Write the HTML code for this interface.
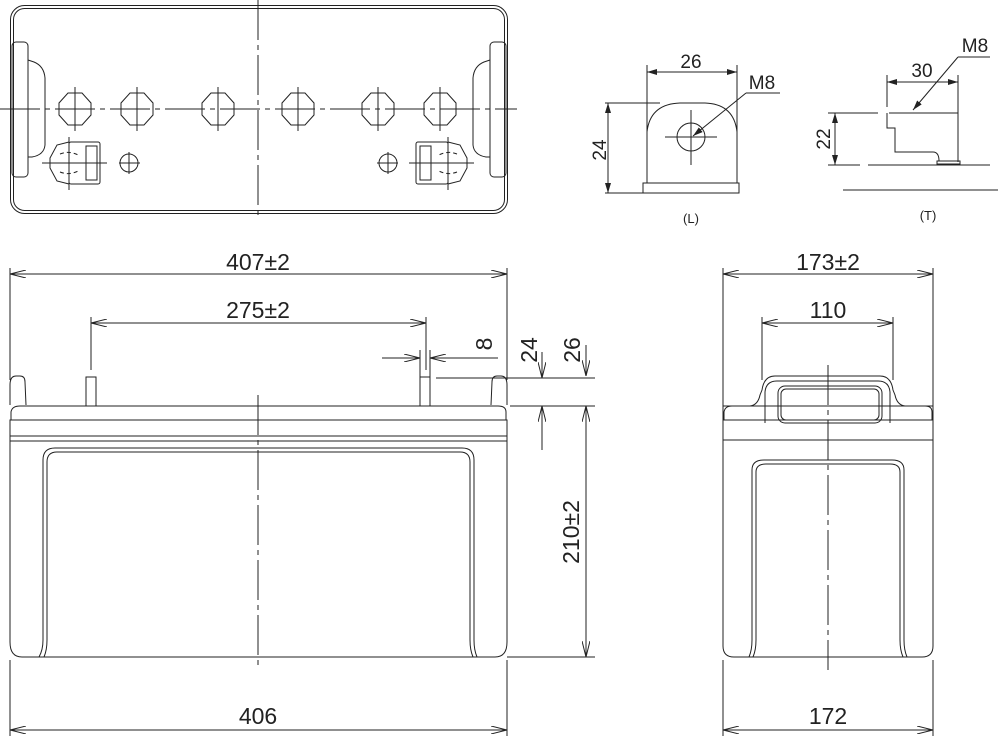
<!DOCTYPE html>
<html><head><meta charset="utf-8"><style>
html,body{margin:0;padding:0;background:#fff;}
svg{display:block;}
text{font-family:"Liberation Sans",sans-serif;fill:#222;}
.d{font-size:23px;}
.s{font-size:19px;}
</style></head><body>
<svg width="998" height="742" viewBox="0 0 998 742" xmlns="http://www.w3.org/2000/svg">
<defs>
<marker id="a" viewBox="0 0 16 8" refX="16" refY="4" markerWidth="16" markerHeight="8" orient="auto-start-reverse" markerUnits="userSpaceOnUse"><path d="M0,0 L16,4 L0,8" fill="none" stroke="#222" stroke-width="1"/></marker>
<marker id="b" viewBox="0 0 10 6" refX="10" refY="3" markerWidth="10" markerHeight="6" orient="auto-start-reverse" markerUnits="userSpaceOnUse"><path d="M0,0 L10,3 L0,6 Z" fill="#222"/></marker>
<polygon id="oct" points="-7,-16 7,-16 16,-6 16,6 7,16 -7,16 -16,6 -16,-6" fill="none" stroke="#222" stroke-width="1"/>
</defs>
<g fill="none" stroke="#222" stroke-width="1">
<rect x="10.5" y="5.5" width="497" height="208" rx="14"/>
<rect x="13.5" y="8.5" width="491" height="202" rx="11"/>
<line x1="258" y1="0" x2="258" y2="220" stroke-dasharray="40,5,5,5"/>
<line x1="0" y1="109" x2="517" y2="109" stroke-dasharray="40,5,5,5"/>
<use href="#oct" x="75" y="109"/><use href="#oct" x="137" y="109"/><use href="#oct" x="218" y="109"/>
<use href="#oct" x="298" y="109"/><use href="#oct" x="378" y="109"/><use href="#oct" x="440" y="109"/>
<line x1="75" y1="87" x2="75" y2="131"/><line x1="137" y1="87" x2="137" y2="131"/><line x1="218" y1="87" x2="218" y2="131"/><line x1="298" y1="87" x2="298" y2="131"/><line x1="378" y1="87" x2="378" y2="131"/><line x1="440" y1="87" x2="440" y2="131"/>
<rect x="12" y="42" width="16" height="135" rx="4"/>
<path d="M28,60 L34,62 Q44,66 45,78 L45,145 Q44,155 32,157 L28,157"/>
<rect x="490" y="42" width="16" height="135" rx="4"/>
<path d="M490,60 L484,62 Q474,66 473,78 L473,145 Q474,155 486,157 L490,157"/>
<path d="M69,142 L57,145 L50,158 L50,168 L57,181 L69,184"/>
<rect x="69" y="142" width="31" height="42" rx="2"/>
<rect x="86" y="146" width="11" height="34"/>
<path d="M60,154 Q70,150 80,156 M60,172 Q70,176 80,170" stroke-dasharray="4,3"/>
<line x1="42" y1="163" x2="107" y2="163"/><line x1="69" y1="137" x2="69" y2="190"/>
<circle cx="129" cy="163" r="9"/><line x1="119" y1="163" x2="140" y2="163"/><line x1="129" y1="152" x2="129" y2="174"/>
<path d="M448,142 L460,145 L467,158 L467,168 L460,181 L448,184"/>
<rect x="416" y="142" width="32" height="42" rx="2"/>
<rect x="420" y="146" width="11" height="34"/>
<path d="M457,154 Q447,150 437,156 M457,172 Q447,176 437,170" stroke-dasharray="4,3"/>
<line x1="409" y1="163" x2="474" y2="163"/><line x1="448" y1="137" x2="448" y2="190"/>
<circle cx="388" cy="163" r="9"/><line x1="377" y1="163" x2="398" y2="163"/><line x1="388" y1="152" x2="388" y2="174"/>

<line x1="10" y1="268" x2="10" y2="380"/><line x1="507" y1="268" x2="507" y2="380"/>
<line x1="10" y1="274" x2="507" y2="274" marker-start="url(#a)" marker-end="url(#a)"/>
<line x1="91" y1="317" x2="91" y2="370"/><line x1="426" y1="317" x2="426" y2="370"/>
<line x1="91" y1="323" x2="426" y2="323" marker-start="url(#a)" marker-end="url(#a)"/>
<path d="M10,405 L10,385 Q10,376 16,376 L20,376 Q25,376 25,382 L26,405"/>
<path d="M507,405 L507,385 Q507,376 501,376 L497,376 Q492,376 492,382 L491,405"/>
<rect x="86" y="377" width="10" height="29"/><rect x="420" y="377" width="10" height="29"/>
<path d="M11,420 L11,412 Q12,406 20,406 L498,406 Q506,406 506,412 L506,420"/>
<rect x="10" y="420" width="497" height="16"/>
<path d="M10,436 L10,441 M507,436 L507,441"/>
<path d="M10,441 L507,441 L507,642 Q507,657 495,657 L22,657 Q10,657 10,642 Z"/>
<path d="M44,657 Q47,650 47,640 L47,462 Q47,452 57,452 L460,452 Q470,452 470,462 L470,640 Q470,650 473,657"/>
<path d="M39,657 Q43,650 43,640 L43,460 Q43,448 55,448 L462,448 Q474,448 474,460 L474,640 Q474,650 477,657"/>
<line x1="258" y1="395" x2="258" y2="670" stroke-dasharray="40,5,5,5"/>
<line x1="10" y1="660" x2="10" y2="736"/><line x1="507" y1="660" x2="507" y2="736"/>
<line x1="10" y1="730" x2="507" y2="730" marker-start="url(#a)" marker-end="url(#a)"/>
<line x1="420" y1="350" x2="420" y2="377"/><line x1="430" y1="350" x2="430" y2="377"/>
<line x1="382" y1="358" x2="420" y2="358" marker-end="url(#a)"/>
<line x1="498" y1="358" x2="430" y2="358" marker-end="url(#a)"/>
<line x1="436" y1="378" x2="595" y2="378"/>
<line x1="510" y1="406" x2="595" y2="406"/>
<line x1="542" y1="352" x2="542" y2="378" marker-end="url(#a)"/>
<line x1="542" y1="450" x2="542" y2="406" marker-end="url(#a)"/>
<line x1="586" y1="345" x2="586" y2="376" marker-end="url(#a)"/>
<line x1="586" y1="406" x2="586" y2="657" marker-start="url(#a)" marker-end="url(#a)"/>
<line x1="507" y1="657" x2="595" y2="657"/>

<line x1="723" y1="268" x2="723" y2="420"/><line x1="933" y1="268" x2="933" y2="420"/>
<line x1="723" y1="274" x2="933" y2="274" marker-start="url(#a)" marker-end="url(#a)"/>
<line x1="762" y1="317" x2="762" y2="380"/><line x1="893" y1="317" x2="893" y2="380"/>
<line x1="762" y1="323" x2="893" y2="323" marker-start="url(#a)" marker-end="url(#a)"/>
<path d="M724,420 L724,412 Q725,406 732,406 L750,406 Q758,405 760,395 L762,390 Q764,376 775,376 L880,376 Q891,376 893,390 L895,395 Q897,405 905,406 L925,406 Q932,406 932,412 L932,420"/>
<path d="M765,423 L765,392 Q766,381 777,381 L878,381 Q889,381 890,392 L890,423"/>
<rect x="778" y="386" width="104" height="37" rx="7"/>
<rect x="781" y="389" width="98" height="31" rx="5"/>
<line x1="723" y1="406" x2="933" y2="406"/>
<rect x="723" y="420" width="210" height="20"/>
<path d="M723,440 L933,440 L933,646 Q933,657 922,657 L734,657 Q723,657 723,646 Z"/>
<path d="M753,657 Q756,650 756,640 L756,472 Q756,464 766,464 L890,464 Q900,464 900,472 L900,640 Q900,650 903,657"/>
<path d="M749,657 Q752,650 752,640 L752,470 Q752,460 764,460 L892,460 Q904,460 904,470 L904,640 Q904,650 907,657"/>
<line x1="828" y1="365" x2="828" y2="670" stroke-dasharray="40,5,5,5"/>
<line x1="723" y1="660" x2="723" y2="736"/><line x1="933" y1="660" x2="933" y2="736"/>
<line x1="723" y1="730" x2="933" y2="730" marker-start="url(#a)" marker-end="url(#a)"/>

<line x1="647" y1="65" x2="647" y2="183"/><line x1="737" y1="65" x2="737" y2="183"/>
<line x1="647" y1="72" x2="737" y2="72" marker-start="url(#b)" marker-end="url(#b)"/>
<path d="M647,132 Q650,104 680,103 L705,103 Q734,104 737,132"/>
<rect x="643" y="183" width="96" height="10"/>
<circle cx="691" cy="137" r="14"/>
<line x1="665" y1="137" x2="717" y2="137"/><line x1="691" y1="110" x2="691" y2="165"/>
<line x1="605" y1="103" x2="660" y2="103"/><line x1="605" y1="193" x2="643" y2="193"/>
<line x1="608" y1="103" x2="608" y2="193" marker-start="url(#b)" marker-end="url(#b)"/>
<line x1="780" y1="93" x2="746" y2="93"/><line x1="746" y1="93" x2="693" y2="136" marker-end="url(#b)"/>
<line x1="887" y1="75" x2="887" y2="107"/><line x1="958" y1="75" x2="958" y2="162"/>
<line x1="887" y1="82" x2="958" y2="82" marker-start="url(#b)" marker-end="url(#b)"/>
<path d="M889,113 L958,113 L958,162 M887,113 L887,128 L895,128 L895,152 L933,152 Q939,152 939,161"/>
<rect x="937" y="161" width="23" height="3"/>
<line x1="828" y1="113" x2="878" y2="113"/>
<line x1="828" y1="165" x2="860" y2="165"/><line x1="868" y1="165" x2="990" y2="165"/>
<line x1="835" y1="113" x2="835" y2="165" marker-start="url(#b)" marker-end="url(#b)"/>
<line x1="843" y1="190" x2="998" y2="190"/>
<line x1="990" y1="57" x2="958" y2="57"/><line x1="958" y1="57" x2="913" y2="110" marker-end="url(#b)"/>
</g>
<text class="d" x="258" y="270" text-anchor="middle">407±2</text>
<text class="d" x="258" y="318" text-anchor="middle">275±2</text>
<text class="d" x="258" y="724" text-anchor="middle">406</text>
<text class="d" x="828" y="270" text-anchor="middle">173±2</text>
<text class="d" x="828" y="318" text-anchor="middle">110</text>
<text class="d" x="828" y="724" text-anchor="middle">172</text>
<text class="d" transform="translate(492,344) rotate(-90)" text-anchor="middle">8</text>
<text class="d" transform="translate(537,350) rotate(-90)" text-anchor="middle">24</text>
<text class="d" transform="translate(580,350) rotate(-90)" text-anchor="middle">26</text>
<text class="d" transform="translate(579,532) rotate(-90)" text-anchor="middle">210±2</text>
<text class="s" x="691" y="68" text-anchor="middle">26</text>
<text class="s" x="762" y="89" text-anchor="middle">M8</text>
<text class="s" transform="translate(606,150) rotate(-90)" text-anchor="middle">24</text>
<text x="691" y="223" text-anchor="middle" font-size="13">(L)</text>
<text class="s" x="922" y="77" text-anchor="middle">30</text>
<text class="s" x="975" y="52" text-anchor="middle">M8</text>
<text class="s" transform="translate(830,139) rotate(-90)" text-anchor="middle">22</text>
<text x="928" y="220" text-anchor="middle" font-size="13">(T)</text>
</svg>
</body></html>
